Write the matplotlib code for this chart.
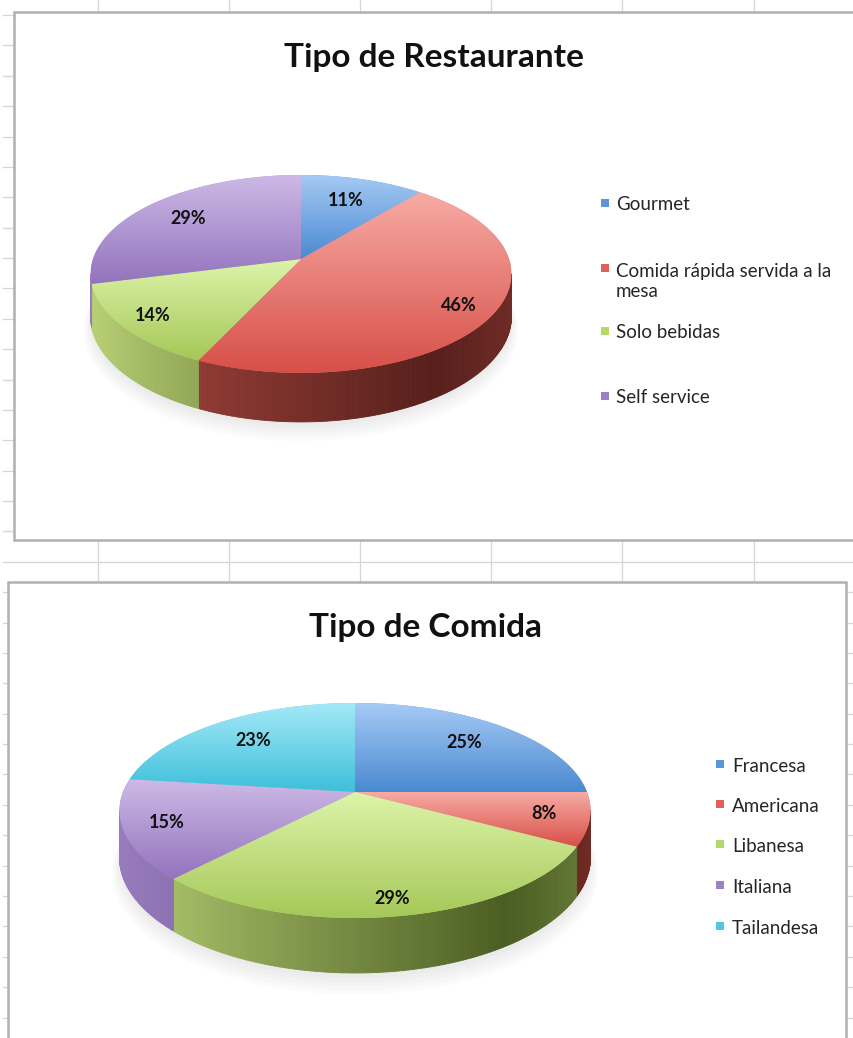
import matplotlib
matplotlib.use('Agg')
import matplotlib.pyplot as plt
import numpy as np
from matplotlib.patches import Polygon, Rectangle
from matplotlib.collections import PolyCollection
from matplotlib.colors import to_rgb

plt.rcParams['font.family'] = ['Lato', 'DejaVu Sans']

# datos de los graficos
titulo1 = 'Tipo de Restaurante'
tipos_rest = ['Gourmet', 'Comida rápida servida a la\nmesa', 'Solo bebidas', 'Self service']
pct_rest = [11, 46, 14, 29]

titulo2 = 'Tipo de Comida'
tipos_comida = ['Francesa', 'Americana', 'Libanesa', 'Italiana', 'Tailandesa']
pct_comida = [25, 8, 29, 15, 23]

# colores: cara superior (claro, oscuro), lateral (claro, oscuro), leyenda
azul = ('#A6CAF5', '#4A8AD0', '#4C84C4', '#264A74', '#5A96DA')
rojo = ('#F7ABA5', '#D74F48', '#B04A42', '#571F1B', '#E0605A')
verde = ('#DDF4AA', '#A5C858', '#BCD477', '#4A5D22', '#B5D86A')
morado = ('#CDBAE6', '#9373BE', '#9A7DC0', '#5A4380', '#9E80C8')
cian = ('#A4E9F7', '#3EBFDA', '#3AAFC8', '#1E6878', '#4CC8E2')

cols_rest = [azul, rojo, verde, morado]
cols_comida = [azul, rojo, verde, morado, cian]


def mezcla(c1, c2, s):
    a = np.array(to_rgb(c1))
    b = np.array(to_rgb(c2))
    return a * (1 - s) + b * s


def pastel_3d(ax, vals, cols, cx, cy, A, B, k, prof):
    H = prof * (1 - k)

    def proj(u, v, z):
        w = 1 + k * v
        return cx + A * u / w, cy - (B * v + H * z) / w

    fr = np.array(vals, dtype=float) / sum(vals)
    acum = np.concatenate([[0], np.cumsum(fr)])

    # sombra suave
    tt = np.radians(np.linspace(0, 360, 200))
    for j in range(6):
        r = 0.99 + 0.008 * j
        pts = [proj(r * np.cos(t), r * np.sin(t), -1.05 - 0.05 * j) for t in tt]
        ax.add_patch(Polygon(pts, closed=True, facecolor='#808080', edgecolor='none',
                             alpha=0.03, zorder=1.5))

    # laterales visibles
    tL = 180 + np.degrees(np.arcsin(k))
    tR = 360 - np.degrees(np.arcsin(k))
    quads, colores = [], []
    for i in range(len(vals)):
        t1 = 90 - 360 * acum[i]
        t2 = 90 - 360 * acum[i + 1]
        for sh in (-360, 0, 360, 720):
            lo = max(t2 + sh, tL)
            hi = min(t1 + sh, tR)
            if hi <= lo:
                continue
            ts = np.linspace(lo, hi, max(2, int((hi - lo) * 1.5) + 1))
            for a, b in zip(ts[:-1], ts[1:]):
                ra, rb = np.radians(a), np.radians(b)
                q = [proj(np.cos(ra), np.sin(ra), 0), proj(np.cos(rb), np.sin(rb), 0),
                     proj(np.cos(rb), np.sin(rb), -1), proj(np.cos(ra), np.sin(ra), -1)]
                p = (np.cos(np.radians((a + b) / 2)) + 1) / 2
                s = p / 0.78 if p < 0.78 else 1 - (p - 0.78) / 0.22 * 0.3
                quads.append(q)
                colores.append(mezcla(cols[i][2], cols[i][3], s))
    pc = PolyCollection(quads, facecolors=colores, edgecolors=colores, linewidths=0.6, zorder=2)
    ax.add_collection(pc)

    # caras superiores con degradado
    for i in range(len(vals)):
        t1 = 90 - 360 * acum[i]
        t2 = 90 - 360 * acum[i + 1]
        ts = np.radians(np.linspace(t1, t2, 150))
        pts = np.array([proj(0, 0, 0)] + [proj(np.cos(t), np.sin(t), 0) for t in ts])
        base = Polygon(pts, closed=True, facecolor=mezcla(cols[i][0], cols[i][1], 0.6),
                       edgecolor='none', zorder=3)
        ax.add_patch(base)
        g = np.linspace(0, 1, 256)
        img = np.array([[mezcla(cols[i][0], cols[i][1], gg)] for gg in g])
        im = ax.imshow(img, extent=(pts[:, 0].min(), pts[:, 0].max(), pts[:, 1].max(), pts[:, 1].min()),
                       origin='upper', interpolation='bilinear', zorder=3.5, aspect='auto')
        im.set_clip_path(base)

    # etiquetas de porcentaje
    for i in range(len(vals)):
        tm = np.radians(90 - 360 * (acum[i] + acum[i + 1]) / 2)
        r = 0.79 - 0.09 * np.sin(tm)
        x, y = proj(r * np.cos(tm), r * np.sin(tm), 0)
        ax.text(x, y, '%d%%' % vals[i], ha='center', va='center', fontsize=13,
                fontweight='bold', color='#111111', zorder=10)


fig = plt.figure(figsize=(8.54, 10.38), dpi=100)
ax = fig.add_axes([0, 0, 1, 1])
ax.set_xlim(0, 854)
ax.set_ylim(1038, 0)
ax.axis('off')

# cuadricula de la hoja de calculo
for xg in np.arange(97.7, 854, 131.2):
    ax.plot([xg, xg], [0, 1038], color='#D6D6D6', lw=0.9, zorder=0)
for yg in np.arange(15, 1038, 30.38):
    ax.plot([3, 854], [yg, yg], color='#D6D6D6', lw=0.9, zorder=0)

# marcos de los graficos
ax.add_patch(Rectangle((14, 12), 880, 528, facecolor='white', edgecolor='#B0B0B0', lw=1.8, zorder=1))
ax.add_patch(Rectangle((8, 582), 838, 480, facecolor='white', edgecolor='#B0B0B0', lw=1.8, zorder=1))

# grafico 1
ax.text(434, 67, titulo1, ha='center', va='baseline', fontsize=24, fontweight='bold',
        color='#111111', zorder=10)
pastel_3d(ax, pct_rest, cols_rest, 301, 259, 208, 96.7, 0.151, 49)
ley1_y = [210, 275, 338, 403]
for lab, c, yb in zip(tipos_rest, cols_rest, ley1_y):
    n = lab.count('\n')
    ax.add_patch(Rectangle((601, yb - 11), 8, 8, facecolor=c[4], edgecolor='none', zorder=5))
    ax.text(616, yb + 22 * n, lab, ha='left', va='baseline', fontsize=13.5, color='#262626',
            linespacing=1.2, zorder=10)

# grafico 2
ax.text(426, 637, titulo2, ha='center', va='baseline', fontsize=24, fontweight='bold',
        color='#111111', zorder=10)
pastel_3d(ax, pct_comida, cols_comida, 355, 792, 232, 104.3, 0.172, 55)
ley2_y = [772, 812, 852, 893, 934]
for lab, c, yb in zip(tipos_comida, cols_comida, ley2_y):
    ax.add_patch(Rectangle((716, yb - 12), 8, 8, facecolor=c[4], edgecolor='none', zorder=5))
    ax.text(732, yb, lab, ha='left', va='baseline', fontsize=13.5, color='#262626', zorder=10)

ax.set_xlim(0, 854)
ax.set_ylim(1038, 0)
fig.savefig('out.png', dpi=100)
